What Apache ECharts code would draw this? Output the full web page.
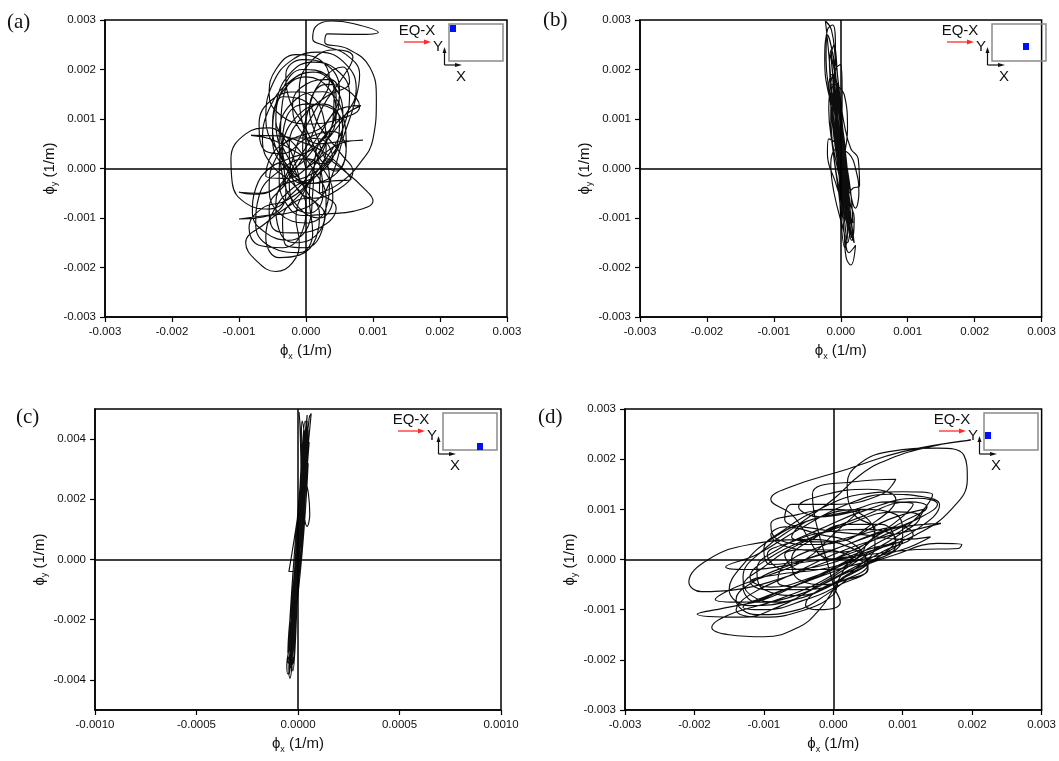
<!DOCTYPE html>
<html>
<head>
<meta charset="utf-8">
<script src="https://cdn.jsdelivr.net/npm/echarts@6/dist/echarts.min.js"></script>
<style>html,body{margin:0;padding:0;background:#fff}#c{width:1059px;height:761px}</style>
</head>
<body>
<div id="c"></div>
<script>
// ---- data (values in units of 1e-3 1/m) ----
const panelLabels = ['(a)', '(b)', '(c)', '(d)'];
const xTicksC = [-0.001, -0.0005, 0, 0.0005, 0.001];
const yTicksC = [-0.004, -0.002, 0, 0.002, 0.004];
const insetText = ['EQ-X', 'Y', 'X'];

const trajA = [
[0.00,0.00],[0.25,0.45],[0.45,1.05],[0.35,1.60],[0.00,1.85],[-0.35,1.55],[-0.50,0.85],[-0.35,0.15],[-0.05,-0.30],
[0.35,-0.20],[0.60,0.40],[0.55,1.10],[0.25,1.55],[-0.15,1.40],[-0.40,0.70],[-0.35,-0.15],[-0.10,-0.80],[0.20,-1.00],[0.40,-0.60],
[0.30,-0.10],[0.00,0.20],[-0.40,-0.05],[-0.70,-0.55],[-0.75,-1.15],[-0.50,-1.60],[-0.10,-1.70],[0.10,-1.30],[0.05,-0.60],
[0.20,0.30],[0.55,1.00],[0.75,1.60],[0.60,2.10],[0.20,2.35],[-0.20,2.20],[-0.50,1.70],[-0.60,1.00],[-0.40,0.30],[-0.10,-0.20],
[-0.30,0.55],[-0.55,0.82],[-0.90,0.70],[-1.12,0.20],[-1.10,-0.30],[-0.90,-0.70],[-0.55,-0.82],[-0.20,-0.50],[0.10,0.00],
[0.35,0.70],[0.45,1.40],[0.30,1.90],[-0.05,2.00],[-0.35,1.60],[-0.45,0.90],[-0.35,0.20],[-0.30,-0.50],[-0.55,-0.95],[-1.00,-1.02],[-0.60,-0.95],[-0.20,-0.88],[0.20,-0.60],[0.40,-0.10],
[0.55,0.60],[0.72,1.30],[0.80,1.90],[0.60,2.30],[0.28,2.48],[0.10,2.62],[0.14,2.86],[0.38,2.98],[0.70,2.93],[1.08,2.75],[0.75,2.71],[0.32,2.72],[0.28,2.55],[0.62,2.42],[0.95,2.05],[1.05,1.40],[1.00,0.60],[0.80,0.10],[0.50,-0.30],[0.20,-0.50],
[0.30,0.20],[0.60,-0.08],[0.85,-0.38],[1.00,-0.65],[0.72,-0.86],[0.30,-0.92],[-0.05,-0.95],[-0.30,-0.70],
[-0.40,-0.20],[-0.35,0.50],[-0.10,1.10],[0.25,1.30],[0.50,1.00],[0.45,0.40],[0.20,-0.10],[-0.20,-0.40],[-0.50,-0.90],[-0.60,-1.40],[-0.40,-1.80],[-0.10,-1.75],[0.15,-1.40],[0.20,-0.90],
[0.00,-0.60],[-0.30,-0.80],[-0.60,-1.10],[-0.90,-1.50],[-0.75,-1.85],[-0.45,-2.08],[-0.20,-1.90],[-0.10,-1.50],[-0.15,-1.00],
[0.00,-0.40],[0.30,0.20],[0.55,0.80],[0.65,1.50],[0.45,2.00],[0.10,2.15],[-0.25,1.90],[-0.45,1.30],[-0.50,0.60],[-0.30,0.00],[0.10,-0.30],[0.40,-0.25],[0.67,-0.22],
[0.30,0.30],[-0.10,0.55],[-0.40,0.66],[-0.82,0.67],[-0.50,0.58],[-0.10,0.30],[0.20,0.10],
[0.40,0.20],[0.20,0.60],[-0.15,0.62],[-0.45,0.20],[-0.55,-0.40],[-0.40,-0.90],[0.00,-1.10],[0.30,-0.80],[0.35,-0.20],[0.20,0.50],[0.05,1.20],[0.30,1.70],[0.60,1.60],[0.80,1.25],[0.50,1.00],[0.00,0.90],[-0.40,1.10],[-0.55,1.50],[-0.45,2.00],[-0.15,2.30],[0.20,2.20],[0.35,1.80],[0.15,1.20],[-0.10,0.60],[-0.25,0.00],[-0.45,-0.40],[-0.80,-0.52],[-1.00,-0.48],
[-0.70,-0.50],[-0.30,-0.30],[0.10,-0.10],[0.40,0.30],[0.55,0.80],[0.40,1.20],[0.00,1.30],[-0.30,1.00],[-0.35,0.40],[-0.15,-0.20],[0.20,-0.50],[0.45,-0.80],[0.20,-1.20],[-0.20,-1.30],[-0.50,-1.20],[-0.55,-0.80],[-0.30,-0.30],[0.00,0.30],[0.30,0.90],[0.50,1.50],[0.35,1.80],[0.00,1.70],[-0.20,1.30],[-0.10,0.80],[0.20,0.50],[0.55,0.55],[0.85,0.57],[0.50,0.50],[0.10,0.10],[-0.30,-0.20],[-0.60,-0.15],[-0.50,0.30],[-0.20,0.60],[0.20,0.80],[0.50,1.20],[0.82,1.27],[0.60,1.10],[0.30,0.70],
[0.00,0.20],[-0.25,-0.20],[-0.20,-0.70],[0.05,-0.90],[0.25,-0.55],[0.20,0.10],[0.00,0.80],[-0.25,1.40],[-0.30,1.90],[-0.05,2.20],[0.30,2.10],[0.50,1.60],[0.40,0.90],[0.10,0.40],[-0.25,0.20],[-0.55,0.00],[-0.75,-0.40],[-0.80,-0.90],[-0.60,-1.30],[-0.25,-1.45],[0.05,-1.10],[0.10,-0.50],
[0.15,0.35],[0.40,0.95],[0.42,1.55],[0.18,1.95],[-0.15,1.85],[-0.35,1.35],[-0.38,0.70],[-0.20,0.05],[0.05,-0.55],[0.28,-0.95],[0.15,-1.35],[-0.15,-1.50],[-0.40,-1.25],[-0.45,-0.70],[-0.25,-0.10],[0.05,0.55],[0.25,1.25],[0.55,1.85],[0.70,2.25],[0.45,2.40],[0.10,2.20],[-0.10,1.60],[-0.05,0.90],[0.15,0.30],[0.45,-0.05],[0.60,0.35],[0.40,0.75],[0.00,0.60],[-0.35,0.30],[-0.60,0.35],[-0.70,0.90],[-0.50,1.40],[-0.10,1.55],[0.25,1.10],[0.30,0.40],[0.05,-0.25],[-0.30,-0.65],[-0.65,-0.80],[-0.85,-1.20],[-0.70,-1.55],[-0.35,-1.60],[-0.05,-1.25],[0.00,-0.75],[-0.20,-0.30],[-0.50,0.05],[-0.65,0.55],[-0.55,1.20],[-0.25,1.75],[0.10,1.95],[0.40,1.70],[0.55,1.10],[0.50,0.50],[0.25,0.00],[-0.05,-0.45],[-0.35,-1.05],[-0.30,-1.55],[0.00,-1.60],[0.25,-1.20],[0.30,-0.60],[0.10,0.00],[-0.15,0.45],[-0.45,0.95],[-0.35,1.45],[0.00,1.35],[0.20,0.85],[0.55,0.25],[0.70,-0.05],[0.45,-0.45],[0.10,-0.60],[-0.20,-0.20],[-0.25,0.50],[-0.05,1.05],[0.30,1.45],[0.65,1.75],[0.55,2.05],[0.25,1.80],[0.05,1.25],[-0.05,0.40],[0.00,0.00]
];

const trajB = [
[0.00,0.00],[0.10,0.80],[0.05,1.50],[-0.10,1.70],[-0.15,1.00],[-0.05,0.00],[0.10,-0.80],[0.12,-1.20],[0.05,-0.90],[-0.05,0.20],[-0.12,1.20],[-0.16,2.00],[-0.20,2.60],[-0.23,2.98],[-0.14,2.80],[-0.08,2.20],[0.00,1.30],[0.05,0.40],[0.12,-0.60],[0.18,-1.30],[0.20,-1.50],[0.10,-1.10],[0.00,-0.30],[-0.10,0.60],[-0.16,1.40],[-0.22,2.20],[-0.20,2.70],[-0.12,2.30],[-0.05,1.50],[0.05,0.60],[0.12,-0.30],[0.22,-0.80],[0.27,-0.50],[0.22,0.00],[0.12,0.30],[-0.05,0.40],[-0.15,0.10],[-0.10,-0.50],[0.05,-1.30],[0.12,-1.70],[0.22,-1.55],[0.15,-1.95],[0.08,-1.80],[0.05,-1.30],[0.00,-0.50],[-0.05,0.50],[-0.10,1.40],[-0.08,2.00],[0.00,2.10],[0.02,1.50],[0.00,0.60],
[-0.05,1.00],[-0.18,1.50],[-0.24,2.20],[-0.20,2.80],[-0.12,2.90],[-0.08,2.40],[-0.10,1.80],[-0.12,1.30],
[-0.05,0.50],[0.02,-0.30],[0.08,-0.90],[0.12,-1.20],[0.10,-0.60],[0.04,0.20],[-0.04,1.00],[-0.10,1.70],[-0.14,2.30],[-0.10,2.50],[-0.05,1.90],[0.00,1.00],[0.06,0.00],[0.14,-0.90],[0.18,-1.40],[0.14,-1.20],[0.06,-0.40],[-0.02,0.40],[-0.18,0.60],[-0.20,0.30],[-0.10,-0.20],[0.05,-0.60],[0.18,-0.40],[0.28,-0.35],[0.26,0.20],[0.15,0.40],[0.05,0.90],[-0.04,1.60],[-0.06,1.20],[0.02,0.30],[0.08,-0.50],[0.10,-1.00],[0.04,-0.60],[-0.04,0.30],[-0.12,1.10],[-0.18,1.60],[-0.14,1.90],[-0.06,1.40],[0.02,0.70],[0.08,-0.10],[0.14,-0.70],[0.20,-1.00],[0.16,-1.45],[0.10,-1.10],[0.04,-0.30],[-0.03,0.50],[-0.09,1.20],[-0.12,1.50],[-0.06,1.00],[0.00,0.20],[0.06,-0.50],[0.10,-0.90],[0.05,-0.40],
[0.08,-0.60],[-0.02,0.60],[-0.10,1.60],[-0.15,2.30],[-0.10,2.00],[-0.02,1.00],[0.06,0.00],[0.12,-0.90],[0.16,-1.40],[0.10,-1.00],[0.02,-0.10],[-0.06,0.90],[-0.12,1.80],[-0.05,1.70],[0.03,0.80],[0.10,-0.20],[0.15,-1.00],[0.08,-0.70],[-0.01,0.30],[-0.08,1.30],[-0.11,1.90],[-0.16,1.60],[-0.10,0.70],[-0.02,-0.20],[0.06,-1.10],[0.10,-1.50],[0.14,-1.10],[0.10,-0.30],[0.03,0.50],[-0.04,1.20],[-0.13,1.70],[-0.18,1.20],[-0.12,0.40],[-0.04,-0.40],[0.04,-1.00],[0.12,-0.60],[0.08,0.20],[0.00,1.00],[-0.06,1.70],[-0.14,2.40],[-0.17,2.10],[-0.10,1.20],[-0.02,0.30],[0.07,-0.60],[0.18,-1.10],[0.15,-0.50],[0.06,0.30],[-0.03,1.10],[-0.09,1.50],[-0.03,0.90],[0.04,0.10],[0.10,-0.70],[0.05,-0.30],[-0.05,0.60],[-0.15,1.00],[-0.10,0.20],[0.00,-0.60],[0.10,-1.30],[0.06,-1.60],[0.00,-1.00],[-0.03,0.00],[-0.08,0.80],[-0.05,0.40],[0.02,-0.40],[0.08,-0.10],[0.00,0.00]
];

const trajC = [
[0.000,0.00],[0.020,2.00],[0.040,3.80],[0.045,4.60],[0.030,4.00],[0.005,2.00],[-0.020,0.00],[-0.040,-2.00],[-0.050,-3.30],[-0.030,-3.00],[-0.010,-1.00],[0.020,1.00],[0.040,3.00],[0.060,4.50],[0.065,4.85],[0.055,4.70],[0.035,3.20],[0.015,1.20],[-0.010,-0.80],[-0.030,-2.50],[-0.045,-3.60],[-0.040,-3.95],[-0.030,-3.50],[-0.020,-2.00],[0.000,0.00],[0.030,2.20],[0.045,3.60],[0.030,3.30],[0.010,1.40],[-0.020,-0.40],[-0.045,-0.40],[-0.030,0.20],[0.000,1.50],[0.030,3.00],[0.045,4.00],[0.050,4.40],[0.035,3.50],[0.015,1.60],[-0.005,-0.20],[-0.030,-2.20],[-0.045,-3.00],[-0.020,-2.80],[-0.005,-1.20],[0.015,0.80],[0.040,2.50],[0.058,1.50],[0.045,1.10],[0.025,1.90],[0.020,3.40],[0.005,4.90],[0.010,4.40],[0.015,2.80],[0.000,1.00],[-0.020,-1.00],[-0.040,-2.80],[-0.055,-3.50],[-0.050,-3.80],[-0.035,-3.20],[-0.020,-1.60],[0.000,0.40],[0.020,2.40],[0.035,4.00],[0.045,4.80],[0.040,4.20],[0.025,2.60],[0.005,0.60],[-0.015,-1.40],[-0.030,-3.20],[-0.025,-3.70],[-0.015,-3.00],[-0.005,-1.50],[0.010,0.50],[0.030,2.00],[0.050,3.20],[0.040,2.00],[0.020,0.20],[-0.010,-1.80],[-0.035,-3.40],[-0.040,-3.10],[-0.025,-1.20],[-0.005,0.80],[0.020,2.80],[0.030,3.60],[0.020,2.60],[0.000,0.60],[-0.025,-1.50],[-0.045,-2.60],[-0.035,-2.20],[-0.010,-0.20],[0.015,1.80],[0.035,3.40],[0.045,3.80],[0.025,2.00],
[0.010,1.00],[0.030,3.40],[0.045,4.20],[0.030,3.00],[0.000,0.80],[-0.025,-1.60],[-0.040,-3.30],[-0.035,-2.70],[-0.015,-0.60],[0.010,1.60],[0.030,3.80],[0.040,4.50],[0.025,3.00],[-0.005,0.40],[-0.030,-1.80],[-0.050,-3.40],[-0.030,-3.50],[-0.010,-1.40],[0.015,1.00],[0.040,3.20],[0.055,3.90],[0.040,2.60],[0.015,0.20],[-0.020,-2.00],[-0.035,-3.60],[-0.020,-3.20],[0.000,-0.80],[0.025,1.80],[0.045,3.60],[0.035,4.60],[0.020,3.60],[0.000,1.20],[-0.025,-1.00],[-0.045,-2.40],[-0.050,-3.10],[-0.030,-2.00],[-0.010,0.00],[0.020,2.20],[0.030,4.20],[0.020,4.60],[0.015,3.20],[0.005,1.00],[-0.015,-1.20],[-0.035,-2.90],[-0.045,-3.85],[-0.035,-3.40],[-0.015,-1.80],[0.005,0.20],[0.030,2.60],[0.050,3.50],[0.035,2.40],[0.010,0.40],[-0.015,-1.60],[-0.040,-3.00],[-0.030,-2.40],[-0.005,-0.40],[0.020,1.60],[0.040,3.00],[0.050,4.30],[0.040,3.30],[0.020,1.40],[-0.005,-0.60],[-0.030,-2.40],[-0.040,-3.50],[-0.025,-2.60],[-0.005,-0.20],[0.000,0.00]
];

const trajD = [
[0.00,0.00],[0.60,0.40],[1.20,0.80],[1.50,1.10],[1.20,1.22],[0.50,1.00],[-0.20,0.60],[-0.80,0.20],[-1.10,-0.20],[-1.00,-0.60],[-0.50,-0.72],[0.10,-0.40],[0.60,0.00],[1.00,0.50],[0.90,0.90],[0.40,1.00],[-0.30,0.80],[-0.90,0.40],[-1.30,-0.10],[-1.50,-0.60],[-1.20,-0.92],[-0.60,-0.82],[0.00,-0.50],[0.50,-0.10],
[-0.30,0.40],[-1.20,0.30],[-1.80,0.00],[-2.08,-0.45],[-1.90,-0.64],[-1.40,-0.60],[-0.80,-0.40],[-0.20,-0.10],[0.40,0.20],
[0.00,-0.30],[-0.80,-0.80],[-1.50,-1.10],[-1.75,-1.35],[-1.50,-1.50],[-1.00,-1.54],[-0.50,-1.35],[-0.20,-1.00],[0.00,-0.60],[0.20,-0.10],
[0.60,0.60],[0.30,0.90],[0.20,1.50],[0.35,1.88],[0.80,2.15],[1.50,2.22],[1.88,2.08],[1.93,1.60],[1.70,1.00],[1.20,0.50],[0.60,0.20],[0.00,0.00],
[-0.60,0.90],[-0.90,1.20],[-0.61,1.45],[0.20,1.80],[1.00,2.15],[1.98,2.38],[1.40,2.25],[0.80,2.00],[0.40,1.70],[0.00,1.20],[-0.50,0.70],
[-1.00,0.20],[-1.30,-0.35],[-1.20,-0.70],[-0.80,-0.85],[-0.20,-0.50],[0.50,0.10],[1.20,0.60],[1.53,1.09],[1.30,1.25],[0.80,1.30],[0.20,1.10],[-0.50,0.60],[-1.10,0.10],[-1.55,-0.15],[-1.20,-0.20],[-0.40,-0.05],
[0.50,0.10],[1.20,0.20],[1.80,0.22],[1.85,0.30],[1.50,0.32],[0.90,0.10],[0.30,-0.20],[-0.30,-0.60],[-0.80,-0.95],[-1.30,-1.15],[-1.96,-1.09],[-1.50,-0.95],[-1.00,-0.80],[-0.50,-0.50],[0.00,-0.20],[0.60,0.30],[1.10,0.70],[1.43,1.29],[1.00,1.35],[0.40,1.30],[-0.20,1.00],[-0.70,0.60],[-1.00,0.20],[-0.90,-0.10],[-0.40,0.00],[0.20,0.30],[0.80,0.60],[1.55,0.72],[1.20,0.60],[0.60,0.40],[0.00,0.10],[-0.60,-0.30],[-1.20,-0.70],[-1.40,-1.00],[-1.00,-1.15],[-0.40,-1.00],[0.00,-0.70],[0.10,-0.40],
[0.50,-0.10],[0.90,0.30],[0.70,0.70],[0.20,0.70],[-0.30,0.40],[-0.60,0.00],[-0.50,-0.40],[-0.10,-0.50],[0.30,-0.20],[0.60,0.30],[0.50,0.80],[0.00,1.00],[-0.50,0.90],[-0.90,0.70],[-0.80,0.40],[-0.30,0.30],[0.20,0.40],[0.80,0.80],[1.30,1.00],[1.20,0.80],[0.60,0.50],[0.00,0.20],[-0.60,-0.10],[-1.10,-0.40],[-1.40,-0.80],[-1.10,-1.10],[-0.50,-1.00],[-0.10,-0.70],[0.20,-0.40],
[-0.20,-0.60],[-0.40,-0.90],[-0.20,-1.00],[0.10,-0.85],[0.00,-0.50],
[-0.30,1.30],[0.30,1.55],[0.90,1.60],[0.70,1.30],[0.00,1.10],[-0.60,1.10],[-0.70,0.80],[-0.20,0.60],[0.40,0.50],[1.00,0.40],[1.40,0.45],[1.00,0.20],[0.40,0.00],[-0.20,-0.20],[-0.80,-0.30],[-1.20,-0.45],[-1.00,-0.60],[-0.40,-0.60],[0.20,-0.40],[0.50,-0.20],[0.20,0.10],[-0.30,0.20],[-0.70,0.10],[-0.50,-0.20],[0.00,-0.20],[0.40,0.10],
[0.50,0.35],[1.00,0.75],[1.35,1.05],[1.10,1.15],[0.40,0.85],[-0.30,0.45],[-0.90,0.05],[-1.20,-0.35],[-0.90,-0.55],[-0.30,-0.35],[0.30,0.00],[0.90,0.45],[1.25,0.85],[0.90,0.95],[0.20,0.70],[-0.50,0.30],[-1.00,-0.15],[-1.30,-0.55],[-1.10,-0.85],[-0.50,-0.70],[0.10,-0.30],[0.70,0.15],[1.15,0.50],[1.00,0.65],[0.40,0.50],[-0.20,0.25],[-0.70,-0.10],[-0.80,-0.45],[-0.40,-0.55],[0.20,-0.25],[0.70,0.10],[0.90,0.40],[0.50,0.60],[-0.10,0.55],[-0.60,0.35],[-0.95,0.10],[-0.70,-0.20],[-0.10,-0.10],[0.50,0.20],[1.00,0.35],[0.80,0.10],[0.20,-0.15],[-0.40,-0.45],[-0.90,-0.70],[-1.30,-0.95],[-1.00,-1.00],[-0.40,-0.80],[0.10,-0.50],[0.50,-0.15],[0.30,0.30],[-0.20,0.50],[-0.70,0.65],[-0.90,0.50],[-0.50,0.20],[0.10,0.15],[0.70,0.55],[1.15,1.10],[0.80,1.15],[0.20,0.95],[-0.40,0.75],[-0.60,0.45],[0.00,0.35],[0.60,0.75],[0.90,1.20],[0.50,1.40],[-0.10,1.30],[-0.50,1.05],[-0.20,0.85],[0.40,1.00],[0.00,0.50],[-0.40,0.00],[-0.90,-0.30],[-1.40,-0.55],[-1.70,-0.80],[-1.30,-0.85],[-0.70,-0.60],[-0.20,-0.30],[0.30,0.05],[0.00,0.00]
];

const trajs = [trajA, trajB, trajC, trajD];

// ---- layout / style ----
const GRIDS = [[105,20,402,297],[640,20,410,297],[95,409,406,301],[625,409,417,301]];
const XR = [[-0.003,0.003,0.001,3],[-0.003,0.003,0.001,3],[-0.001,0.001,0.0005,4],[-0.003,0.003,0.001,3]];
const YR = [[-0.003,0.003,0.001,3],[-0.003,0.003,0.001,3],[-0.005,0.005,null,3],[-0.003,0.003,0.001,3]];
const BLUE = [[1,1],[31,19],[34,30],[1,19]];
const LABELPOS = [[7,22],[543,20],[16,417],[538,417]];

const FONT = 'Liberation Sans, Arial, Helvetica, sans-serif';
const nameRich = {
  m: {fontSize: 15, fontFamily: FONT, color: '#111', lineHeight: 20, verticalAlign: 'middle'},
  s: {fontSize: 9, fontFamily: FONT, color: '#111', lineHeight: 20, verticalAlign: 'bottom'}
};
function fmt(dec) { return v => (Math.abs(v) < 1e-12 ? 0 : v).toFixed(dec); }

const grid = [], xAxis = [], yAxis = [], series = [], graphic = [];
for (let i = 0; i < 4; i++) {
  const [l, t, w, h] = GRIDS[i];
  grid.push({left: l, top: t, width: w, height: h, show: true, borderColor: '#000', borderWidth: 1.5, backgroundColor: 'transparent'});
  const common = {
    gridIndex: i, type: 'value', nameLocation: 'middle',
    axisLine: {show: true, onZero: false, lineStyle: {color: '#000', width: 1.5}},
    axisTick: {show: true, inside: false, length: 5, lineStyle: {color: '#000', width: 1.2}},
    splitLine: {show: false},
    nameTextStyle: {rich: nameRich}
  };
  const xr = XR[i];
  const xa = Object.assign({}, common, {
    min: xr[0], max: xr[1], interval: xr[2],
    name: '{m|ϕ}{s|x}{m| (1/m)}', nameGap: 24,
    axisLabel: {show: true, margin: 9, fontSize: 11.5, color: '#111', fontFamily: FONT, formatter: fmt(xr[3]), showMinLabel: true, showMaxLabel: true}
  });
  if (i === 2) { xa.axisLabel.customValues = xTicksC; xa.axisTick = Object.assign({}, common.axisTick, {customValues: xTicksC}); }
  xAxis.push(xa);
  const yr = YR[i];
  const ya = Object.assign({}, common, {
    min: yr[0], max: yr[1],
    name: '{m|ϕ}{s|y}{m| (1/m)}', nameGap: 45,
    axisLabel: {show: true, margin: 9, fontSize: 11.5, color: '#111', fontFamily: FONT, formatter: fmt(yr[3]), showMinLabel: true, showMaxLabel: true}
  });
  if (yr[2] !== null) ya.interval = yr[2];
  else { ya.axisLabel.customValues = yTicksC; ya.axisTick = Object.assign({}, common.axisTick, {customValues: yTicksC}); }
  yAxis.push(ya);

  series.push({
    type: 'line', xAxisIndex: i, yAxisIndex: i,
    data: trajs[i].map(p => [p[0] * 1e-3, p[1] * 1e-3]),
    showSymbol: false, symbol: 'none', smooth: 0.45, silent: true,
    lineStyle: {color: '#0d0d0d', width: 1.15},
    markLine: {
      silent: true, symbol: ['none', 'none'], label: {show: false}, animation: false,
      lineStyle: {color: '#000', width: 1.5, type: 'solid'},
      emphasis: {disabled: true},
      data: [{xAxis: 0}, {yAxis: 0}]
    }
  });

  // panel label
  graphic.push({type: 'text', x: LABELPOS[i][0], y: LABELPOS[i][1], z: 100,
    style: {text: panelLabels[i], font: '21px "Liberation Serif", "Times New Roman", serif', fill: '#111', align: 'left', verticalAlign: 'middle'}});

  // inset schematic
  const R = l + w, T = t;
  const rx = R - 58, ry = T + 4, rw = 54, rh = 37;
  graphic.push({type: 'rect', z: 100, shape: {x: rx, y: ry, width: rw, height: rh}, style: {fill: 'none', stroke: '#8a8a8a', lineWidth: 1.5}});
  graphic.push({type: 'rect', z: 101, shape: {x: rx + BLUE[i][0], y: ry + BLUE[i][1], width: 6, height: 7}, style: {fill: '#0010ff'}});
  graphic.push({type: 'text', z: 100, x: R - 90, y: T + 11, style: {text: insetText[0], font: '15px ' + FONT, fill: '#111', align: 'center', verticalAlign: 'middle'}});
  graphic.push({type: 'line', z: 100, shape: {x1: R - 103, y1: T + 22, x2: R - 82, y2: T + 22}, style: {stroke: '#ff2a2a', lineWidth: 1.3}});
  graphic.push({type: 'polygon', z: 100, shape: {points: [[R - 83, T + 19.5], [R - 76, T + 22], [R - 83, T + 24.5]]}, style: {fill: '#ff2a2a'}});
  graphic.push({type: 'text', z: 100, x: R - 69, y: T + 27, style: {text: insetText[1], font: '15px ' + FONT, fill: '#111', align: 'center', verticalAlign: 'middle'}});
  graphic.push({type: 'line', z: 100, shape: {x1: R - 62.5, y1: T + 45, x2: R - 62.5, y2: T + 32}, style: {stroke: '#111', lineWidth: 1.2}});
  graphic.push({type: 'polygon', z: 100, shape: {points: [[R - 64.5, T + 33], [R - 62.5, T + 27], [R - 60.5, T + 33]]}, style: {fill: '#111'}});
  graphic.push({type: 'line', z: 100, shape: {x1: R - 62.5, y1: T + 45, x2: R - 51, y2: T + 45}, style: {stroke: '#111', lineWidth: 1.2}});
  graphic.push({type: 'polygon', z: 100, shape: {points: [[R - 52, T + 43], [R - 45, T + 45], [R - 52, T + 47]]}, style: {fill: '#111'}});
  graphic.push({type: 'text', z: 100, x: R - 46, y: T + 57, style: {text: insetText[2], font: '15px ' + FONT, fill: '#111', align: 'center', verticalAlign: 'middle'}});
}

const chart = echarts.init(document.getElementById('c'), null, {renderer: 'canvas'});
chart.setOption({animation: false, backgroundColor: '#fff', grid, xAxis, yAxis, series, graphic});
</script>
</body>
</html>
